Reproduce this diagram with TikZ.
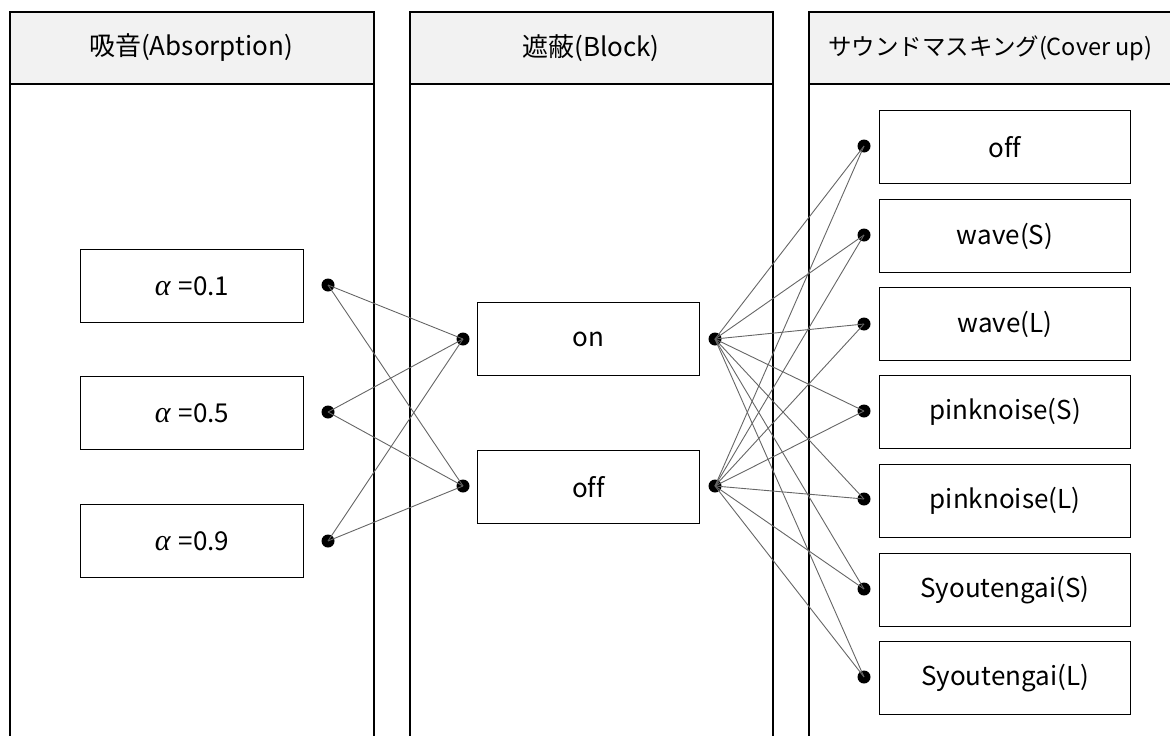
\documentclass[tikz,border=0pt]{standalone}
\usepackage{fontspec}
\setmainfont[Ligatures=CommonOff]{Noto Sans CJK JP}
\newfontfamily\greekit{Liberation Serif}
\newcommand{\alphasym}{{\greekit\itshape\fontsize{30}{30}\selectfont α}\hspace{8pt}}
\begin{document}
\begin{tikzpicture}[x=1pt,y=-1pt,
  colbox/.style={draw=black,line width=1.2pt},
  headbox/.style={draw=black,line width=1.2pt,fill=black!5},
  headtext/.style={font=\fontsize{26}{30}\selectfont},
  itembox/.style={draw=black,line width=1pt,inner sep=0pt,anchor=north west,font=\fontsize{26}{30}\selectfont},
  dot/.style={circle,fill=black,inner sep=0pt,minimum size=13pt},
  link/.style={draw=black!60,line width=0.9pt}]
\useasboundingbox (0,0) rectangle (1170,736);
\clip (0,0) rectangle (1170,736);
% column frames and headers
\foreach \xa/\xb in {10/374,410/773,809/1180}{
  \draw[colbox] (\xa,84) rectangle (\xb,745);
  \draw[headbox] (\xa,12) rectangle (\xb,84);
}
\node[headtext] (h1) at (191,48) {吸音(Absorption)};
\node[headtext] (h2) at (591,48) {遮蔽(Block)};
\node[headtext,font=\fontsize{23.5}{27}\selectfont,anchor=west,inner sep=0pt] (h3) at (828,48) {サウンドマスキング(Cover up)};
% absorption items
\node[itembox,minimum width=223pt,minimum height=73pt] (a1) at (80,249) {\alphasym=0.1};
\node[itembox,minimum width=223pt,minimum height=73pt] (a2) at (80,376) {\alphasym=0.5};
\node[itembox,minimum width=223pt,minimum height=73pt] (a3) at (80,504) {\alphasym=0.9};
% block items
\node[itembox,minimum width=222pt,minimum height=73pt] (b1) at (477,302) {on};
\node[itembox,minimum width=222pt,minimum height=73pt] (b2) at (477,450) {off};
% masking items
\foreach \n/\y/\t in {1/110/off,2/199/wave(S),3/287/wave(L),4/375/pinknoise(S),5/464/pinknoise(L),6/553/Syoutengai(S),7/641/Syoutengai(L)}{
  \node[itembox,minimum width=251pt,minimum height=73pt] (m\n) at (879,\y) {\t};
}
% terminals
\node[dot] (pa1) at (328,285) {};
\node[dot] (pa2) at (328,412) {};
\node[dot] (pa3) at (328,541) {};
\node[dot] (pbl1) at (463,339) {};
\node[dot] (pbl2) at (463,486) {};
\node[dot] (pbr1) at (715,339) {};
\node[dot] (pbr2) at (715,486) {};
\foreach \n/\y in {1/146,2/235,3/324,4/411,5/499,6/589,7/677}{
  \node[dot] (pm\n) at (864,\y) {};
}
% connections
\foreach \i in {1,2,3}{
  \foreach \j in {1,2}{
    \draw[link] (pa\i.center) -- (pbl\j.center);
  }
}
\foreach \i in {1,2}{
  \foreach \j in {1,...,7}{
    \draw[link] (pbr\i.center) -- (pm\j.center);
  }
}
\end{tikzpicture}
\end{document}
